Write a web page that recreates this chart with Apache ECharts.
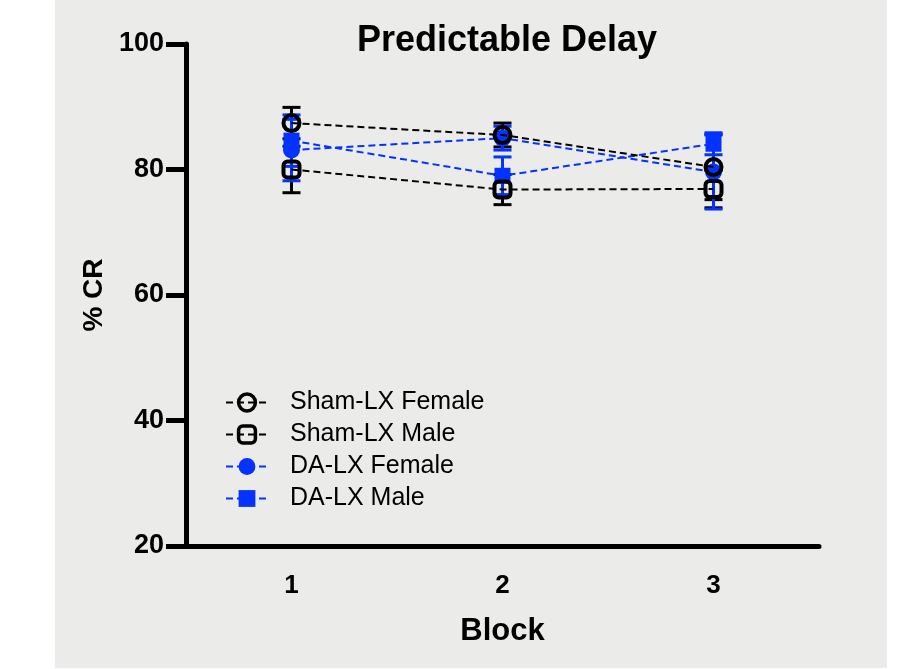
<!DOCTYPE html>
<html>
<head>
<meta charset="utf-8">
<script src="https://cdn.jsdelivr.net/npm/echarts@6/dist/echarts.min.js"></script>
<style>
  html, body { margin: 0; padding: 0; background: #fff; }
  #chart { width: 906px; height: 669px; }
</style>
</head>
<body>
<div id="chart"></div>
<script>
  // data (mean and SEM)
  const blocks = ["1", "2", "3"]
  const yTicks = [20, 40, 60, 80, 100]
  const shamFemale = [87.4, 85.5, 80.4]
  const shamFemaleErr = [2.5, 1.9, 5.2]
  const shamMale = [80.0, 76.8, 76.9]
  const shamMaleErr = [3.7, 2.4, 3.0]
  const daFemale = [83.1, 85.0, 79.6]
  const daFemaleErr = [4.9, 1.9, 5.9]
  const daMale = [84.6, 79.0, 84.1]
  const daMaleErr = [4.1, 3.0, 1.75]

  const font = "'Liberation Sans', Arial, Helvetica, sans-serif"
  const black = "#000000"
  const blue = "#0433ff"

  function errData(mean, err) {
    return mean.map((m, i) => [i, m - err[i], m + err[i]])
  }

  function errSeries(mean, err, color, z) {
    return {
      type: "custom",
      z: z,
      silent: true,
      data: errData(mean, err),
      renderItem: function (params, api) {
        const lo = api.coord([api.value(0), api.value(1)])
        const hi = api.coord([api.value(0), api.value(2)])
        const cap = 9
        const style = { stroke: color, lineWidth: 3, fill: null }
        return {
          type: "group",
          children: [
            { type: "line", shape: { x1: hi[0], y1: hi[1], x2: lo[0], y2: lo[1] }, style: style },
            { type: "line", shape: { x1: hi[0] - cap, y1: hi[1], x2: hi[0] + cap, y2: hi[1] }, style: style },
            { type: "line", shape: { x1: lo[0] - cap, y1: lo[1], x2: lo[0] + cap, y2: lo[1] }, style: style },
          ],
        }
      },
    }
  }

  function lineSeries(name, data, color, symbol, size, open, z) {
    return {
      name: name,
      type: "line",
      z: z,
      data: data,
      symbol: symbol,
      symbolSize: size,
      lineStyle: { color: color, width: 2, type: [7, 4] },
      itemStyle: open
        ? { color: "rgba(0,0,0,0)", borderColor: color, borderWidth: 4 }
        : { color: color, borderWidth: 0 },
      emphasis: { disabled: true },
    }
  }

  const legendNames = ["Sham-LX Female", "Sham-LX Male", "DA-LX Female", "DA-LX Male"]

  const chart = echarts.init(document.getElementById("chart"))
  const option = {
    backgroundColor: "#ffffff",
    animation: false,
    textStyle: { fontFamily: font },
    graphic: [
      {
        type: "rect",
        z: -10,
        shape: { x: 55, y: 0, width: 832, height: 668 },
        style: { fill: "#ebebea" },
      },
    ],
    title: {
      text: "Predictable Delay",
      left: 502,
      top: 18,
      textAlign: "center",
      textStyle: { fontFamily: font, fontSize: 36, fontWeight: "bold", color: black },
    },
    legend: {
      orient: "vertical",
      left: 220,
      top: 385,
      itemWidth: 42,
      itemHeight: 21,
      itemGap: 7,
      selectedMode: false,
      textStyle: { fontFamily: font, fontSize: 25, color: black, padding: [0, 0, 0, 17] },
      data: legendNames.map((n, i) => ({
        name: n,
        itemStyle: i < 2 ? { borderWidth: 3.5 } : {},
      })),
    },
    grid: { left: 186, right: 87, top: 44, bottom: 123, containLabel: false },
    xAxis: {
      type: "category",
      data: blocks,
      boundaryGap: true,
      name: "Block",
      nameLocation: "middle",
      nameGap: 70,
      nameTextStyle: { fontFamily: font, fontSize: 31, fontWeight: "bold", color: black },
      axisLine: { lineStyle: { color: black, width: 5 } },
      axisTick: { alignWithLabel: true, length: 20, lineStyle: { color: black, width: 5 } },
      axisLabel: { margin: 27, fontFamily: font, fontSize: 26, fontWeight: "bold", color: black },
      splitLine: { show: false },
    },
    yAxis: {
      type: "value",
      min: yTicks[0],
      max: yTicks[yTicks.length - 1],
      interval: yTicks[1] - yTicks[0],
      name: "% CR",
      nameLocation: "middle",
      nameGap: 78,
      nameTextStyle: { fontFamily: font, fontSize: 28, fontWeight: "bold", color: black },
      axisLine: { show: true, lineStyle: { color: black, width: 5 } },
      axisTick: { show: true, length: 20, lineStyle: { color: black, width: 5 } },
      axisLabel: { margin: 22, fontFamily: font, fontSize: 27, fontWeight: "bold", color: black },
      splitLine: { show: false },
    },
    series: [
      errSeries(shamFemale, shamFemaleErr, black, 2),
      errSeries(shamMale, shamMaleErr, black, 2),
      errSeries(daFemale, daFemaleErr, blue, 3),
      errSeries(daMale, daMaleErr, blue, 3),
      lineSeries("DA-LX Female", daFemale, blue, "circle", 17, false, 4),
      lineSeries("DA-LX Male", daMale, blue, "rect", 16, false, 4),
      lineSeries("Sham-LX Female", shamFemale, black, "circle", 16, true, 5),
      lineSeries("Sham-LX Male", shamMale, black, "roundRect", 16, true, 5),
    ],
  }
  chart.setOption(option)
</script>
</body>
</html>
